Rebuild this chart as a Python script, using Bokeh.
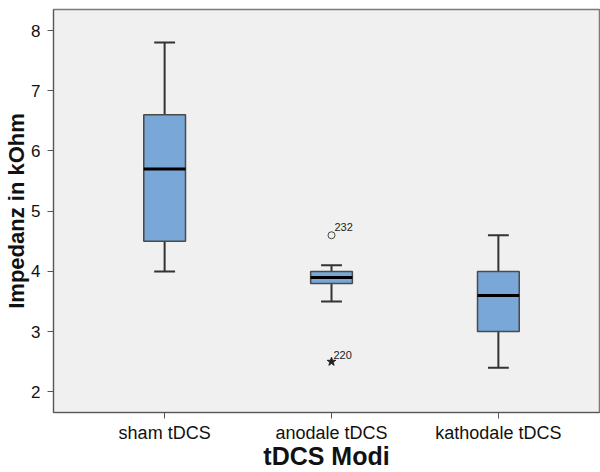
import numpy as np
from bokeh.plotting import figure
from bokeh.models import Range1d, FixedTicker
from bokeh.core.properties import value
from bokeh.embed import file_html
from bokeh.resources import INLINE

# ---- data ----
categories = ["sham tDCS", "anodale tDCS", "kathodale tDCS"]
whisker_low = [4.0, 3.5, 2.4]
q1 = [4.5, 3.8, 3.0]
median = [5.7, 3.9, 3.6]
q3 = [6.6, 4.0, 4.0]
whisker_high = [7.8, 4.1, 4.6]

outlier_group = [2]          # position (1-based) of category
outlier_value = [4.6]
outlier_label = ["232"]
extreme_group = [2]
extreme_value = [2.5]
extreme_label = ["220"]

y_ticks = [2, 3, 4, 5, 6, 7, 8]

FONT = "Liberation Sans"

xpos = np.arange(1, len(categories) + 1, dtype=float)
box_w = 0.25
cap_w = 0.125

p = figure(width=600, height=472, output_backend="svg", toolbar_location=None,
           x_range=Range1d(0.334, 3.606), y_range=Range1d(1.656, 8.35),
           min_border_left=53, min_border_right=1, min_border_top=9, min_border_bottom=60)

p.background_fill_color = "#F0F0F0"
p.border_fill_color = "white"
p.outline_line_color = "#7A7A7A"
p.outline_line_width = 1.5
p.xgrid.visible = False
p.ygrid.visible = False

# whiskers
p.segment(x0=xpos, y0=q3, x1=xpos, y1=whisker_high, line_color="#333333", line_width=2)
p.segment(x0=xpos, y0=q1, x1=xpos, y1=whisker_low, line_color="#333333", line_width=2)
# caps
p.segment(x0=xpos - cap_w / 2, y0=whisker_high, x1=xpos + cap_w / 2, y1=whisker_high,
          line_color="#333333", line_width=2)
p.segment(x0=xpos - cap_w / 2, y0=whisker_low, x1=xpos + cap_w / 2, y1=whisker_low,
          line_color="#333333", line_width=2)
# boxes
p.vbar(x=xpos, bottom=q1, top=q3, width=box_w, fill_color="#79A7D8",
       line_color="#4A4A4A", line_width=1.5)
# medians
p.segment(x0=xpos - box_w / 2, y0=median, x1=xpos + box_w / 2, y1=median,
          line_color="black", line_width=3)

# outliers
p.scatter(x=outlier_group, y=outlier_value, marker="circle", size=7,
          fill_color=None, line_color="#444444", line_width=1)
p.scatter(x=extreme_group, y=extreme_value, marker="star", size=9,
          fill_color="#222222", line_color="#222222", line_width=1)
p.text(x=outlier_group, y=outlier_value, text=outlier_label, x_offset=3, y_offset=-8,
       text_font=value(FONT), text_font_size="11px", text_color="#222222",
       text_baseline="alphabetic")
p.text(x=extreme_group, y=extreme_value, text=extreme_label, x_offset=2, y_offset=-7,
       text_font=value(FONT), text_font_size="11px", text_color="#222222",
       text_baseline="alphabetic")

# axes
p.xaxis.ticker = FixedTicker(ticks=list(xpos))
p.xaxis.major_label_overrides = {float(x): c for x, c in zip(xpos, categories)}
p.xaxis.major_label_overrides.update({int(x): c for x, c in zip(xpos, categories)})
p.yaxis.ticker = FixedTicker(ticks=y_ticks)
for ax in (p.xaxis[0], p.yaxis[0]):
    ax.axis_line_color = "#555555"
    ax.major_tick_line_color = "#555555"
    ax.major_tick_out = 6
    ax.major_tick_in = 0
    ax.minor_tick_out = 0
    ax.minor_tick_in = 0
    ax.major_label_text_font = FONT
    ax.major_label_text_color = "#111111"
    ax.axis_label_text_font = FONT
    ax.axis_label_text_font_style = "bold"
    ax.axis_label_text_color = "#111111"
p.xaxis.major_label_text_font_size = "18px"
p.yaxis.major_label_text_font_size = "17px"
p.xaxis.major_label_standoff = 4
p.yaxis.major_label_standoff = 7

p.xaxis.axis_label = "tDCS Modi"
p.xaxis.axis_label_text_font_size = "25px"
p.xaxis.axis_label_standoff = -4
p.yaxis.axis_label = "Impedanz in kOhm"
p.yaxis.axis_label_text_font_size = "22px"
p.yaxis.axis_label_standoff = -1

open("out.html", "w").write(file_html(p, INLINE))
